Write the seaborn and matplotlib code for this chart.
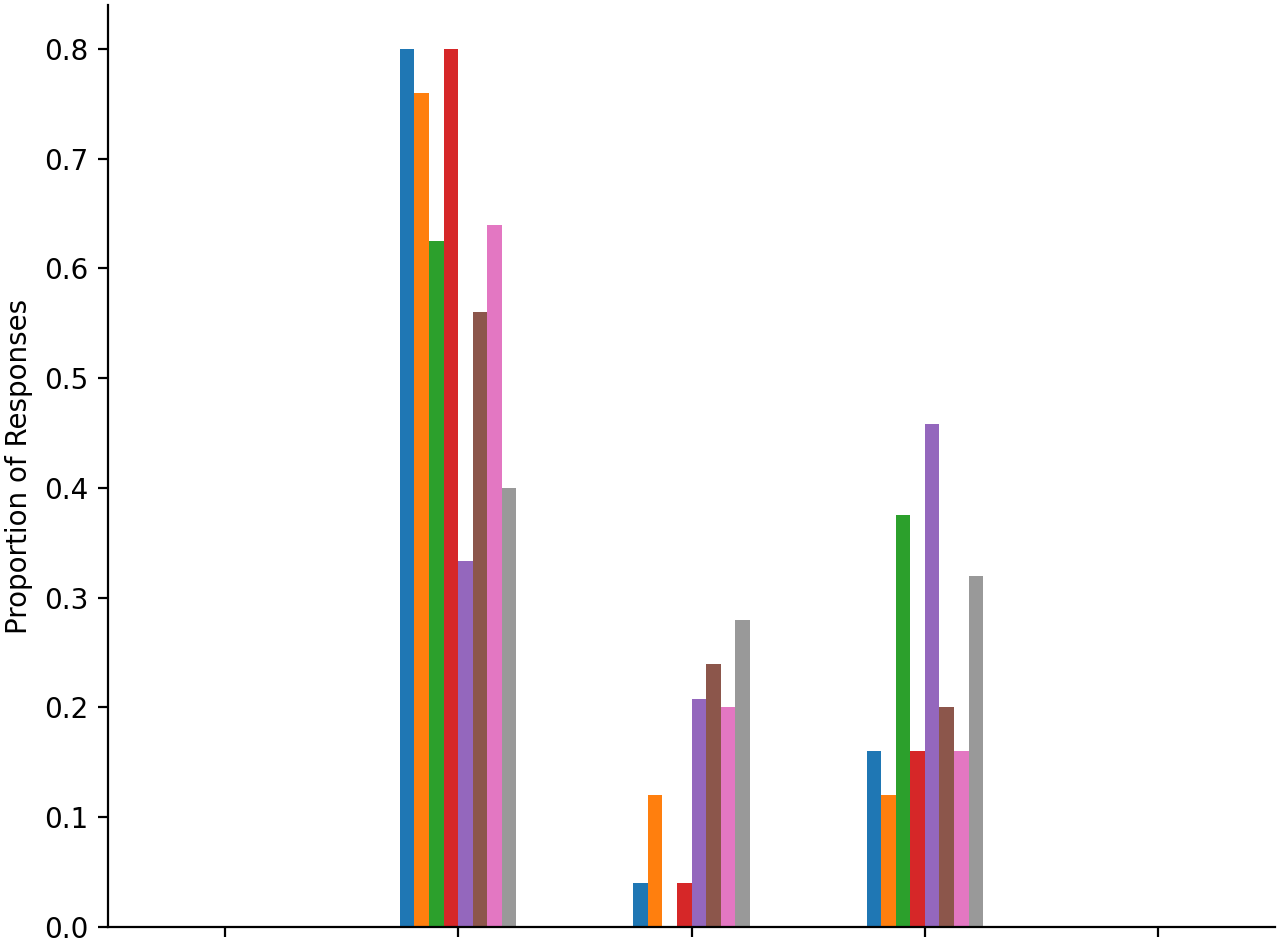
"""Grouped bar chart of response proportions."""

import matplotlib

matplotlib.use("Agg")
import matplotlib.pyplot as plt
import pandas as pd
import seaborn as sns

CATEGORIES = ["c1", "c2", "c3", "c4", "c5"]
SERIES = ["s1", "s2", "s3", "s4", "s5", "s6", "s7", "s8"]
COLORS = ["#1f77b4", "#ff7f0e", "#2ca02c", "#d62728",
          "#9467bd", "#8c564b", "#e377c2", "#999999"]

# proportion per series, one value per category
S1 = [0.0, 0.80, 0.04, 0.16, 0.0]
S2 = [0.0, 0.76, 0.12, 0.12, 0.0]
S3 = [0.0, 0.625, 0.0, 0.375, 0.0]
S4 = [0.0, 0.80, 0.04, 0.16, 0.0]
S5 = [0.0, 0.333, 0.208, 0.458, 0.0]
S6 = [0.0, 0.56, 0.24, 0.20, 0.0]
S7 = [0.0, 0.64, 0.20, 0.16, 0.0]
S8 = [0.0, 0.40, 0.28, 0.32, 0.0]


def main() -> None:
    values = [S1, S2, S3, S4, S5, S6, S7, S8]
    rows = [
        {"category": cat, "series": name, "proportion": val}
        for name, vals in zip(SERIES, values)
        for cat, val in zip(CATEGORIES, vals)
    ]
    data = pd.DataFrame(rows)

    # plain matplotlib look: black text and thin spines
    fig, axis = plt.subplots(figsize=(6.4, 4.705), dpi=200)
    sns.barplot(data=data, x="category", y="proportion", hue="series",
                order=CATEGORIES, hue_order=SERIES, palette=COLORS,
                saturation=1, width=0.5, linewidth=0, legend=False, ax=axis)
    axis.set_xlim(-0.5, 4.5)
    axis.set_ylim(0, 0.84)
    axis.set_xticks(range(len(CATEGORIES)))
    axis.set_xticklabels([""] * len(CATEGORIES))
    axis.set(xlabel="", ylabel="Proportion of Responses")
    sns.despine(ax=axis)
    fig.subplots_adjust(left=108 / 1280, right=1275 / 1280,
                        top=1 - 5 / 941, bottom=1 - 927 / 941)
    fig.savefig("out.png", dpi=200)
    plt.close(fig)


if __name__ == "__main__":
    main()
